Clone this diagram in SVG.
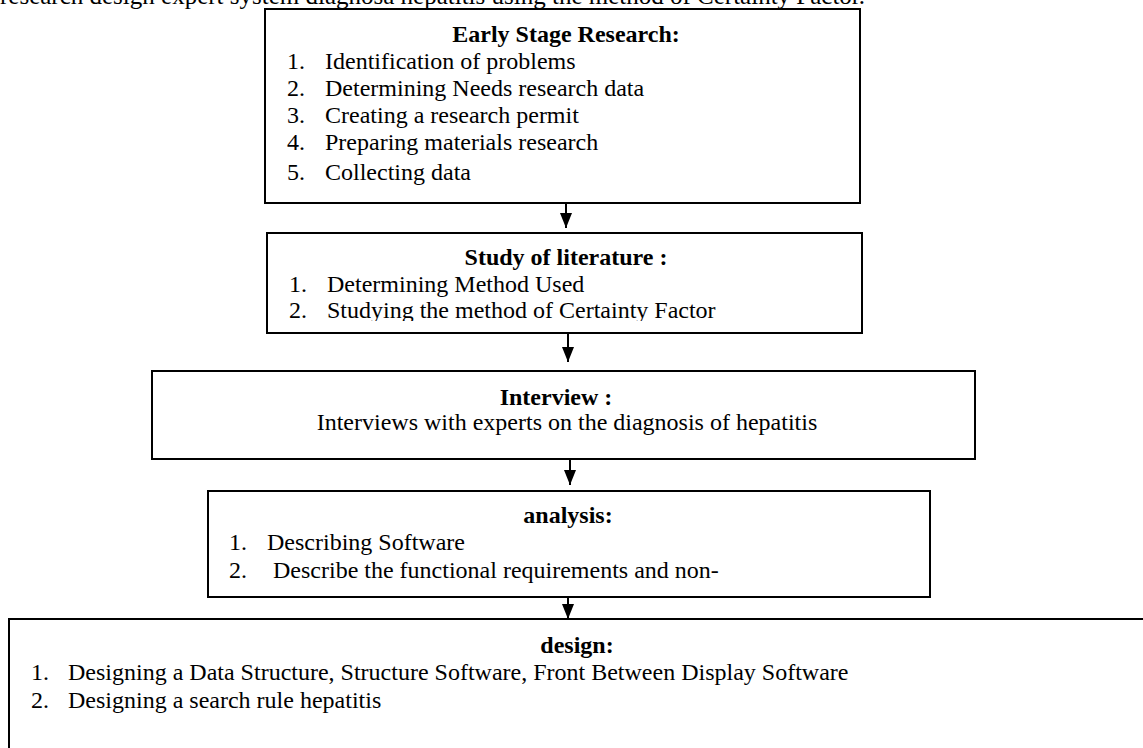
<svg xmlns="http://www.w3.org/2000/svg" width="1143" height="748" viewBox="0 0 1143 748">
  <style>
    .box { fill: #fff; stroke: #000; stroke-width: 2; }
    .t { font-family: "Liberation Serif", "Times New Roman", serif; font-size: 24px; fill: #000; }
    .h { font-weight: bold; text-anchor: middle; }
    .c { text-anchor: middle; }
    .wire { stroke: #000; stroke-width: 2; fill: none; }
  </style>
  <defs>
    <!-- arrowhead drawn along +x so orient="auto" turns it with the line -->
    <marker id="head" markerUnits="userSpaceOnUse" markerWidth="16" markerHeight="14" refX="15" refY="7" orient="auto" viewBox="0 0 16 14">
      <polygon points="0,1 15,7 0,13" fill="#000"/>
    </marker>
    <clipPath id="lit-clip">
      <rect x="267" y="233" width="595" height="88"/>
    </clipPath>
  </defs>
  <rect width="1143" height="748" fill="#fff"/>

  <g id="early-stage">
    <rect class="box" x="265" y="9" width="595" height="194"/>
    <text class="t h" x="566" y="42">Early Stage Research:</text>
    <text class="t" x="287" y="69">1.</text><text class="t" x="325" y="69">Identification of problems</text>
    <text class="t" x="287" y="96">2.</text><text class="t" x="325" y="96">Determining Needs research data</text>
    <text class="t" x="287" y="123">3.</text><text class="t" x="325" y="123">Creating a research permit</text>
    <text class="t" x="287" y="150">4.</text><text class="t" x="325" y="150">Preparing materials research</text>
    <text class="t" x="287" y="180">5.</text><text class="t" x="325" y="180">Collecting data</text>
  </g>

  <!-- caption line, partly above the page edge -->
  <text class="t" x="0" y="4" style="font-size:25px">research design expert system diagnosa hepatitis using the method of Certainty Factor.</text>

  <g id="literature">
    <rect class="box" x="267" y="233" width="595" height="100"/>
    <g clip-path="url(#lit-clip)">
      <text class="t h" x="566" y="265">Study of literature :</text>
      <text class="t" x="289" y="292">1.</text><text class="t" x="327" y="292">Determining Method Used</text>
      <text class="t" x="289" y="318">2.</text><text class="t" x="327" y="318">Studying the method of Certainty Factor</text>
    </g>
  </g>

  <g id="interview">
    <rect class="box" x="152" y="371" width="823" height="88"/>
    <text class="t h" x="556" y="405">Interview :</text>
    <text class="t c" x="567" y="430">Interviews with experts on the diagnosis of hepatitis</text>
  </g>

  <g id="analysis">
    <rect class="box" x="208" y="491" width="722" height="106"/>
    <text class="t h" x="568" y="523">analysis:</text>
    <text class="t" x="229" y="550">1.</text><text class="t" x="267" y="550">Describing Software</text>
    <text class="t" x="229" y="578">2.</text><text class="t" x="273" y="578">Describe the functional requirements and non-</text>
  </g>

  <g id="design">
    <rect class="box" x="9" y="619" width="1150" height="150"/>
    <text class="t h" x="577" y="653">design:</text>
    <text class="t" x="31" y="680">1.</text><text class="t" x="68" y="680">Designing a Data Structure, Structure Software, Front Between Display Software</text>
    <text class="t" x="31" y="708">2.</text><text class="t" x="68" y="708">Designing a search rule hepatitis</text>
  </g>

  <g id="connectors">
    <line class="wire" x1="566" y1="203" x2="566" y2="228" marker-end="url(#head)"/>
    <line class="wire" x1="568" y1="333" x2="568" y2="362" marker-end="url(#head)"/>
    <line class="wire" x1="570" y1="459" x2="570" y2="485" marker-end="url(#head)"/>
    <line class="wire" x1="568" y1="597" x2="568" y2="619" marker-end="url(#head)"/>
  </g>
</svg>
